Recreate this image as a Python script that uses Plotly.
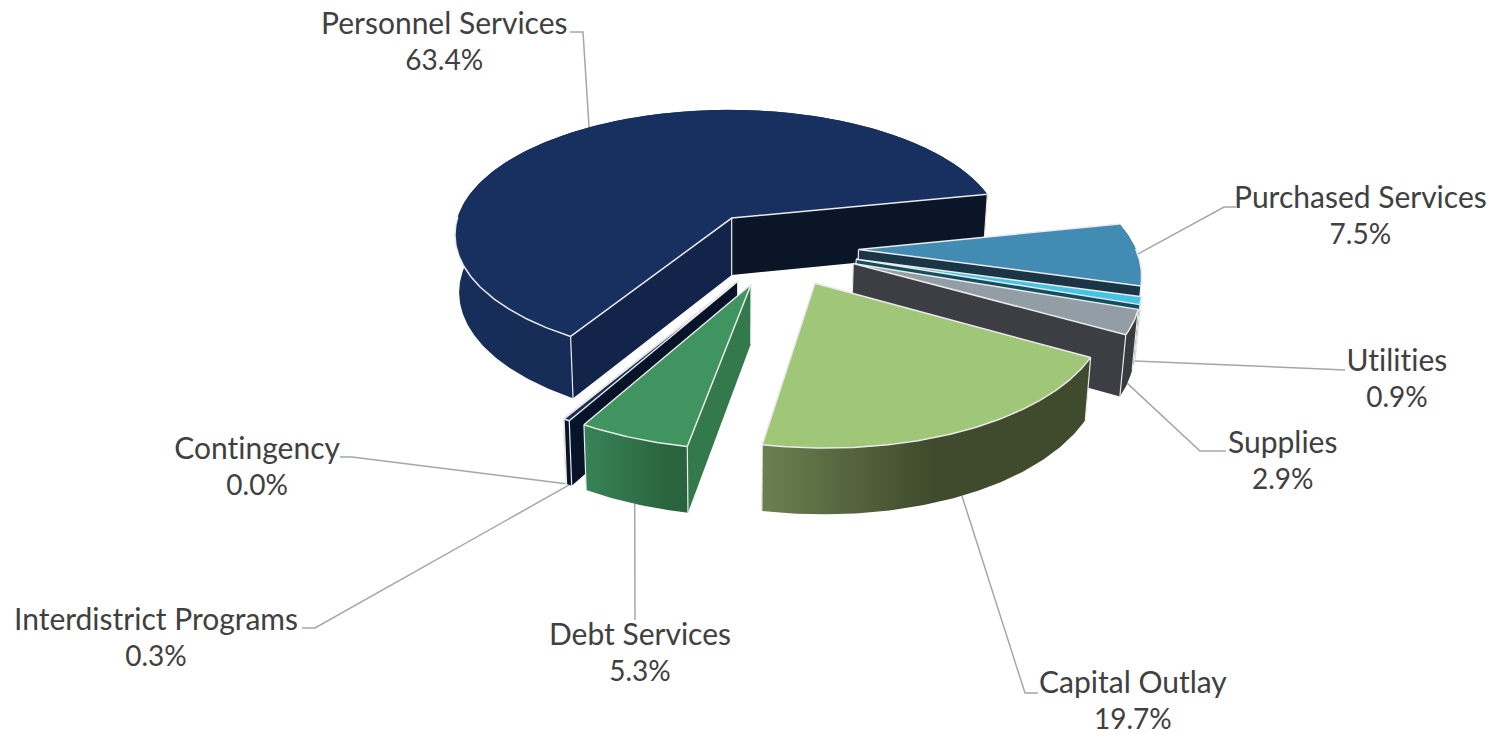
import numpy as np
import plotly.graph_objects as go

# Budget shares by object, in percent, listed clockwise
categories = ["Personnel Services", "Purchased Services", "Utilities", "Supplies",
              "Capital Outlay", "Debt Services", "Interdistrict Programs", "Contingency"]
shares = [63.4, 7.5, 0.9, 2.9, 19.7, 5.3, 0.3, 0.0]

# Slice colours
top_colors = ["#18305F", "#428CB4", "#45C5E5", "#939DA6", "#A0C678", "#409460", "#1A2C50", "#1A2C50"]
start_cut_colors = ["#13244A", "#1A3545", "#134E5E", "#3D3E43", "#3F4B2C", "#33794C", "#071329", "#071329"]
end_cut_colors = ["#0B1528", "#1A3545", "#134E5E", "#3D3E43", "#55693C", "#2A643F", "#071329", "#071329"]
wall_left_colors = ["#172E5A", "#1A3545", "#134E5E", "#3A3B40", "#6B8050", "#388358", "#071329", "#071329"]
wall_right_colors = ["#132649", "#1A3545", "#134E5E", "#3A3B40", "#3F4B2C", "#2A643F", "#071329", "#071329"]
wall_gradient_stop = [1.0, 1.0, 1.0, 1.0, 0.52, 0.8, 1.0, 1.0]

# Order in which the slices are painted, back to front
paint_order = [0, 1, 2, 3, 7, 6, 5, 4]

# Pie geometry and camera
FIRST_ANGLE = -149.24
EXPLODE = 0.287
CENTER_U, CENTER_V = 0.164, 0.235
RIM_SHIFT_U, RIM_SHIFT_V = -0.012, -0.008
ORIGIN_X, ORIGIN_Y = 732.0, 218.0
SCALE_X, SCALE_Y = 271.0, 122.5
PERSPECTIVE = 0.14
THICKNESS = 57.0
EDGE = "#EAEAEA"
LEADER = "#A6A6A6"
TEXT = "#404040"

# Label centres, leader elbows and the wall height a leader attaches at
label_xy = [(444, 40), (1360, 214), (1397, 377), (1282, 459),
            (1133, 699), (640, 651), (156, 636), (257, 465)]
elbows = [[(583, 32), (570, 32)], [(1224, 207), (1236, 207)], [(1345, 370)], [(1200, 451), (1226, 451)],
          [(1025, 693), (1038, 693)], [(635, 620)], [(315, 628), (302, 628)], [(352, 457), (340, 457)]]
leader_level = [0.0, 0.0, 1.0, 1.0, 1.0, 1.0, 1.0, 1.0]


def project(u, v, level=0.0):
    """Map disk coordinates and a height level (0 top, 1 bottom) to chart coordinates."""
    u, v = np.asarray(u, float) + CENTER_U, np.asarray(v, float) + CENTER_V
    w = 1.0 / (1.0 - PERSPECTIVE * v)
    x = SCALE_X * u * w
    y = SCALE_Y * v * w
    return (ORIGIN_X + x * (1 - 0.015 * level),
            ORIGIN_Y + y * (1 + 0.04 * level) + THICKNESS * level)


def polygon(fig, xs, ys, color, gradient=None):
    extra = {}
    if gradient is not None:
        extra["fillgradient"] = dict(type="horizontal", colorscale=gradient)
    else:
        extra["fillcolor"] = color
    fig.add_trace(go.Scatter(
        x=list(xs), y=list(ys), mode="lines", fill="toself",
        line=dict(color=color, width=0),
        hoverinfo="skip", showlegend=False, **extra))


def stroke(fig, xs, ys, color, width):
    fig.add_trace(go.Scatter(x=list(xs), y=list(ys), mode="lines",
                             line=dict(color=color, width=width),
                             hoverinfo="skip", showlegend=False))


def faces_viewer(angle_deg):
    """True when a face whose outward normal points at this bearing looks towards the camera."""
    return -np.cos(np.radians(angle_deg)) > 0


fig = go.Figure()

sweeps = np.array(shares) / sum(shares) * 360.0
starts = FIRST_ANGLE + np.concatenate(([0.0], np.cumsum(sweeps)[:-1]))

# Leaders go underneath the slices
for i, name in enumerate(categories):
    mid = np.radians(starts[i] + sweeps[i] / 2)
    mu, mv = np.sin(mid), -np.cos(mid)
    ax, ay = project(mu * (1 + EXPLODE) + RIM_SHIFT_U, mv * (1 + EXPLODE) + RIM_SHIFT_V, leader_level[i])
    pts = [(float(ax), float(ay))] + elbows[i]
    stroke(fig, [p[0] for p in pts], [p[1] for p in pts], LEADER, 1.5)

for i in paint_order:
    mid = np.radians(starts[i] + sweeps[i] / 2)
    du, dv = EXPLODE * np.sin(mid), -EXPLODE * np.cos(mid)
    t_deg = np.linspace(starts[i], starts[i] + sweeps[i], max(2, int(sweeps[i] * 1.5) + 2))
    t = np.radians(t_deg)
    au, av = np.sin(t) + du + RIM_SHIFT_U, -np.cos(t) + dv + RIM_SHIFT_V

    tx, ty = project(au, av, 0)
    bx, by = project(au, av, 1)
    ax0, ay0 = project(du, dv, 0)
    ax1, ay1 = project(du, dv, 1)

    start_face = ([ax0, tx[0], bx[0], ax1], [ay0, ty[0], by[0], ay1], start_cut_colors[i])
    end_face = ([ax0, tx[-1], bx[-1], ax1], [ay0, ty[-1], by[-1], ay1], end_cut_colors[i])
    start_visible = faces_viewer(starts[i] - 90)
    end_visible = faces_viewer(starts[i] + sweeps[i] + 90)

    # Faces turned away from the camera, then the outer wall, then the faces turned towards it
    for face, visible in ((start_face, start_visible), (end_face, end_visible)):
        if not visible:
            polygon(fig, *face)

    stop = wall_gradient_stop[i]
    scale = [[0, wall_left_colors[i]], [stop, wall_right_colors[i]]]
    if stop < 1:
        scale.append([1, wall_right_colors[i]])
    polygon(fig, np.r_[tx, bx[::-1]], np.r_[ty, by[::-1]], wall_left_colors[i], gradient=scale)

    for face, visible in ((start_face, start_visible), (end_face, end_visible)):
        if visible:
            polygon(fig, *face)

    # Vertical corner edges
    for (x0, y0, x1, y1) in [(ax0, ay0, ax1, ay1), (tx[0], ty[0], bx[0], by[0]), (tx[-1], ty[-1], bx[-1], by[-1])]:
        stroke(fig, [x0, x1], [y0, y1], EDGE, 1.2)

    # Top face, with a light rim along the cuts and the front of the arc
    polygon(fig, np.r_[ax0, tx, ax0], np.r_[ay0, ty, ay0], top_colors[i])
    stroke(fig, [tx[0], ax0, tx[-1]], [ty[0], ay0, ty[-1]], EDGE, 1.5)
    front = -np.cos(t) > 0.0
    if front.any():
        stroke(fig, tx[front], ty[front], EDGE, 1.5)

annotations = [
    dict(x=lx, y=ly, xref="x", yref="y",
         text=f'<span style="font-size:30px">{name}</span><br>{val:.1f}%', showarrow=False,
         xanchor="center", yanchor="middle", align="center",
         font=dict(family="Lato", size=28, color=TEXT))
    for name, val, (lx, ly) in zip(categories, shares, label_xy)
]

fig.update_layout(
    width=1494, height=734, margin=dict(l=0, r=0, t=0, b=0),
    paper_bgcolor="white", plot_bgcolor="white", showlegend=False,
    xaxis=dict(range=[0, 1494], visible=False, fixedrange=True),
    yaxis=dict(range=[734, 0], visible=False, fixedrange=True),
    annotations=annotations,
)

# Plain letterforms, without the joined "ti" pair
fig.write_html("out.html", config={"displayModeBar": False},
               post_script="document.body.style.fontVariantLigatures='none';"
                           "document.body.style.fontFeatureSettings='\"liga\" 0, \"clig\" 0';"
                           "document.body.style.textRendering='optimizeSpeed';")
